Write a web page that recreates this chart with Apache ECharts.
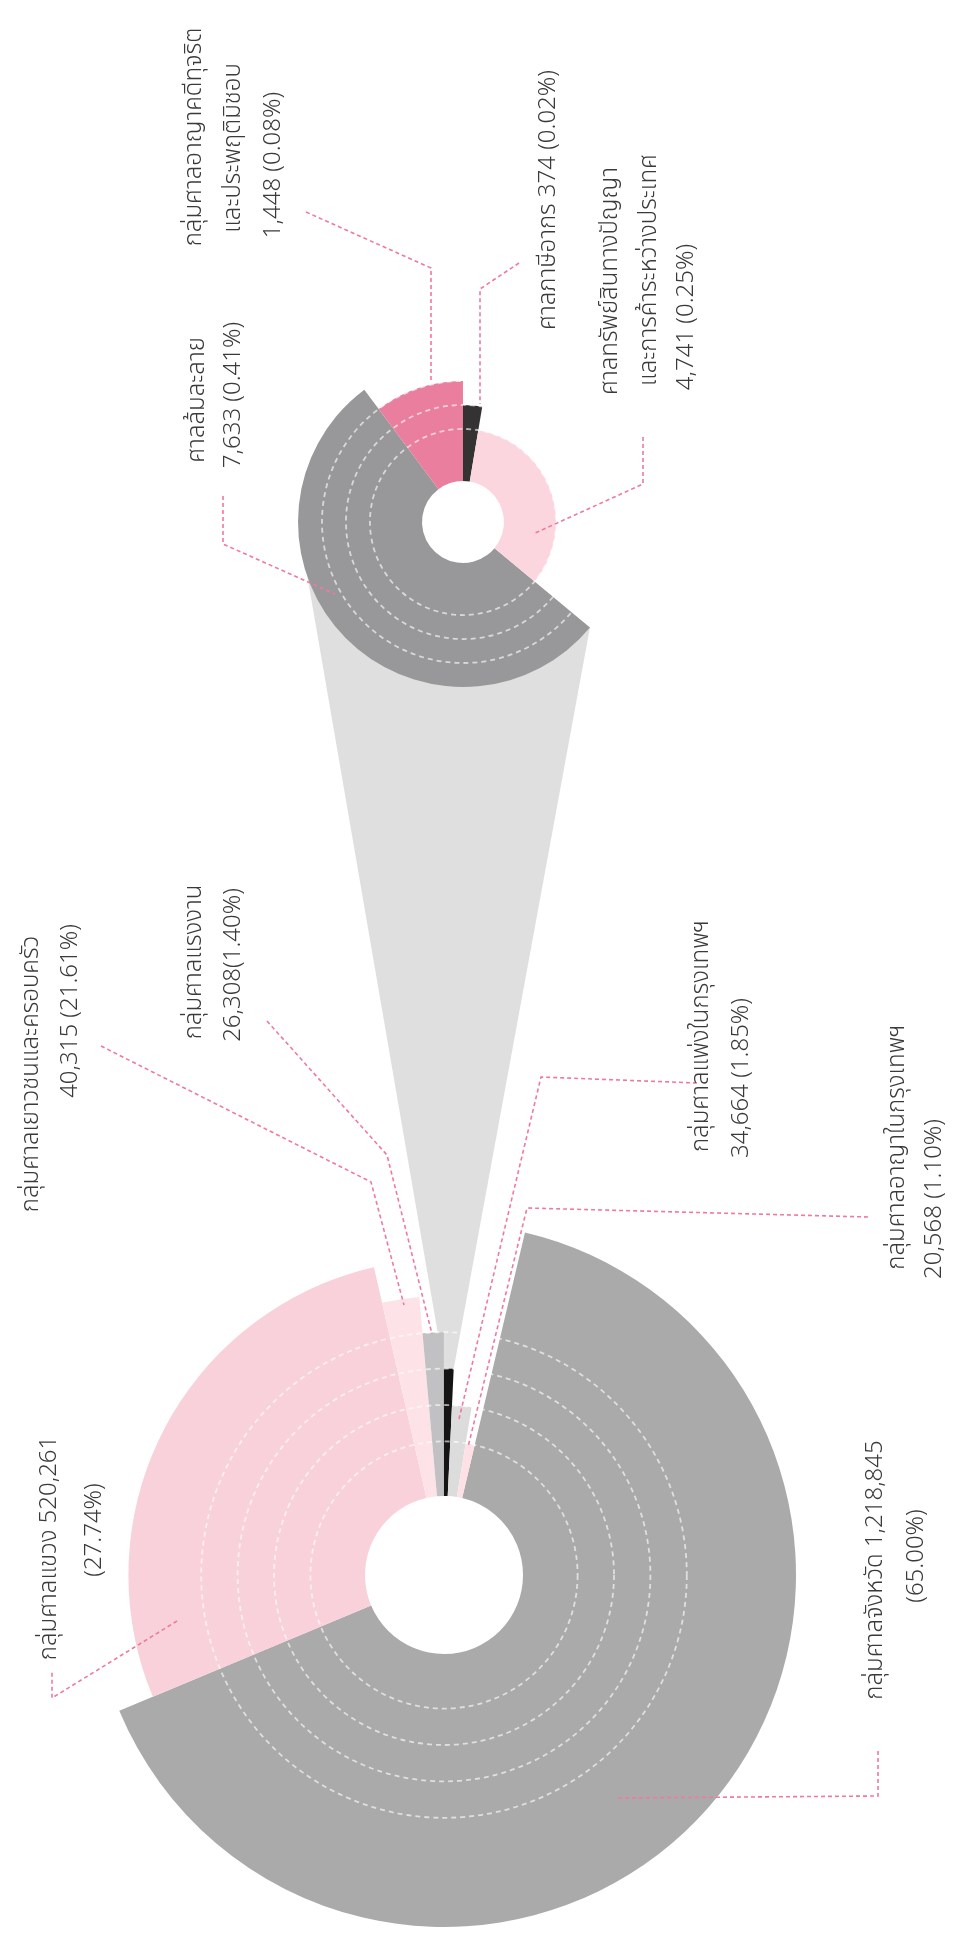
<!DOCTYPE html>
<html><head><meta charset="utf-8">
<script src="https://cdn.jsdelivr.net/npm/echarts@6/dist/echarts.min.js"></script>
<style>html,body{margin:0;padding:0;background:#fff}#c{width:959px;height:1945px}</style>
</head><body><div id="c"></div>
<script>
// ---- data ----
var mainNames = ['กลุ่มศาลจังหวัด','กลุ่มศาลแขวง','กลุ่มศาลเยาวชนและครอบครัว','กลุ่มศาลแรงงาน','ศาลชำนัญพิเศษ','กลุ่มศาลแพ่งในกรุงเทพฯ','กลุ่มศาลอาญาในกรุงเทพฯ'];
var mainValues = [1218845, 520261, 40315, 26308, 14196, 34664, 20568];
var mainLevels = [7, 6, 5, 4, 3, 2, 1];
var subNames = ['ศาลล้มละลาย','กลุ่มศาลอาญาคดีทุจริตและประพฤติมิชอบ','ศาลภาษีอากร','ศาลทรัพย์สินทางปัญญาและการค้าระหว่างประเทศ'];
var subValues = [7633, 1448, 374, 4741];
var subLevels = [4, 3, 2, 1];
var mainGridLevels = [1, 2, 3, 4];
var subGridLevels = [1, 2, 3];
var detailIndex = 4; // main slice expanded into the sub pie

// ---- styles / layout ----
var mainColors = ['#abaaab','#f9d1db','#fde3e8','#c1c1c3','#151515','#dcdcdc','#fde1e7'];
var subColors = ['#98989a','#e97e9e','#353233','#fcd6df'];
var LAY = {
  main: {center:[444,1575], radius:[79,352], startAngle:76.7, rMin:-0.5, rMax:7},
  sub:  {center:[463,522],  radius:[41,165], startAngle:-39.7, rMin:-1.17, rMax:4}
};
var FONT = "300 24px 'Noto Sans Thai','Noto Sans','DejaVu Sans',sans-serif";
var TEXT_COLOR = '#3a3a3a';
var LINE_COLOR = '#ee7aa0';

function sum(a){return a.reduce(function(s,v){return s+v;},0);}
function buildData(values, levels, colors){
  var out=[], acc=0;
  values.forEach(function(v,i){
    out.push({name:'', value:[acc, acc+v, levels[i], i], itemStyle:{color:colors[i]}});
    acc+=v;
  });
  return out;
}
function renderSector(params, api){
  var cs = params.coordSys;
  var lv = api.value(2);
  var p0 = api.coord([lv, api.value(0)]);
  var p1 = api.coord([lv, api.value(1)]);
  var a0 = Math.atan2(p0[1]-cs.cy, p0[0]-cs.cx);
  var a1 = Math.atan2(p1[1]-cs.cy, p1[0]-cs.cx);
  if (a1 <= a0) a1 += Math.PI*2;
  var r = Math.hypot(p0[0]-cs.cx, p0[1]-cs.cy);
  return {type:'sector', shape:{cx:cs.cx, cy:cs.cy, r0:cs.r0, r:r, startAngle:a0, endAngle:a1, clockwise:true},
          style:{fill:api.visual('color')}};
}
function renderGrid(params, api){
  var cs = params.coordSys;
  var p = api.coord([api.value(0), 0]);
  var r = Math.hypot(p[0]-cs.cx, p[1]-cs.cy);
  return {type:'circle', shape:{cx:cs.cx, cy:cs.cy, r:r},
          style:{fill:'none', stroke:'rgba(255,255,255,0.62)', lineWidth:1.8, lineDash:[5,4]}};
}
function polarAxes(key, total, idx){
  var L = LAY[key];
  return {
    angle: {polarIndex:idx, type:'value', min:0, max:total, startAngle:L.startAngle, clockwise:true,
            axisLine:{show:false}, axisTick:{show:false}, axisLabel:{show:false}, splitLine:{show:false}},
    radius: {polarIndex:idx, type:'value', min:L.rMin, max:L.rMax,
            axisLine:{show:false}, axisTick:{show:false}, axisLabel:{show:false}, splitLine:{show:false}}
  };
}
var mA = polarAxes('main', sum(mainValues), 0), sA = polarAxes('sub', sum(subValues), 1);

var chart = echarts.init(document.getElementById('c'), null, {renderer:'canvas'});
chart.setOption({
  animation:false,
  backgroundColor:'#ffffff',
  polar:[{center:LAY.main.center, radius:LAY.main.radius},{center:LAY.sub.center, radius:LAY.sub.radius}],
  angleAxis:[mA.angle, sA.angle],
  radiusAxis:[mA.radius, sA.radius],
  series:[
    {type:'custom', coordinateSystem:'polar', polarIndex:0, z:3, encode:{angle:[0,1], radius:2},
     renderItem:renderSector, data:buildData(mainValues, mainLevels, mainColors)},
    {type:'custom', coordinateSystem:'polar', polarIndex:1, z:3, encode:{angle:[0,1], radius:2},
     renderItem:renderSector, data:buildData(subValues, subLevels, subColors)},
    {type:'custom', coordinateSystem:'polar', polarIndex:0, z:4, encode:{radius:0, angle:1}, silent:true,
     renderItem:renderGrid, data:mainGridLevels.map(function(l){return [l,0];})},
    {type:'custom', coordinateSystem:'polar', polarIndex:1, z:4, encode:{radius:0, angle:1}, silent:true,
     renderItem:renderGrid, data:subGridLevels.map(function(l){return [l,0];})}
  ]
});

// ---- funnel linking the detail slice to the sub pie ----
var cumBefore = sum(mainValues.slice(0, detailIndex));
var b0 = chart.convertToPixel({seriesIndex:0}, [mainLevels[detailIndex], cumBefore]);
var b1 = chart.convertToPixel({seriesIndex:0}, [mainLevels[detailIndex], cumBefore + mainValues[detailIndex]]);
var t1 = chart.convertToPixel({seriesIndex:1}, [subLevels[0], 0]);
var subR = Math.hypot(t1[0]-LAY.sub.center[0], t1[1]-LAY.sub.center[1]);
var t0 = [LAY.sub.center[0]-subR, LAY.sub.center[1]];

// ---- labels (rotated, reading bottom-to-top) ----
var labels = [
  {lines:[['กลุ่มศาลอาญาคดีทุจริต',196,137],['และประพฤติมิชอบ',235,148],['1,448 (0.08%)',275,165]], path:[[306,212],[431,268],[431,382]]},
  {lines:[['ศาลภาษีอากร 374 (0.02%)',550,200]], path:[[519,263],[480,289],[480,404]]},
  {lines:[['ศาลทรัพย์สินทางปัญญา',612,281],['และการค้าระหว่างประเทศ',651,270],['4,741 (0.25%)',688,317]], path:[[643,437],[643,484],[533,534]]},
  {lines:[['ศาลล้มละลาย',199,400],['7,633 (0.41%)',235,395]], path:[[223,496],[223,544],[335,594]]},
  {lines:[['กลุ่มศาลเยาวชนและครอบครัว',33,1074],['40,315 (21.61%)',72,1011]], path:[[101,1046],[371,1182],[404,1305]]},
  {lines:[['กลุ่มศาลแรงงาน',196,962],['26,308(1.40%)',235,965]], path:[[267,1021],[387,1155],[432,1334]]},
  {lines:[['กลุ่มศาลแพ่งในกรุงเทพฯ',703,1036],['34,664 (1.85%)',743,1078]], path:[[697,1083],[541,1077],[459,1419]]},
  {lines:[['กลุ่มศาลอาญาในกรุงเทพฯ',899,1147],['20,568 (1.10%)',936,1199]], path:[[868,1217],[527,1208],[468,1447]]},
  {lines:[['กลุ่มศาลจังหวัด 1,218,845',877,1570],['(65.00%)',918,1556]], path:[[618,1798],[878,1796],[878,1751]]},
  {lines:[['กลุ่มศาลแขวง 520,261',51,1548],['(27.74%)',96,1530]], path:[[177,1621],[52,1698],[52,1672]]}
];
var elements = [{type:'polygon', z:1, silent:true,
  shape:{points:[b0, t0, t1, b1]}, style:{fill:'#dfdfdf'}}];
labels.forEach(function(lb){
  elements.push({type:'polyline', z:20, silent:true, shape:{points:lb.path},
    style:{stroke:LINE_COLOR, lineWidth:1.6, lineDash:[4,3], fill:null}});
  lb.lines.forEach(function(t){
    elements.push({type:'text', z:20, silent:true, x:t[1], y:t[2], rotation:Math.PI/2,
      style:{text:t[0], font:FONT, fill:TEXT_COLOR, align:'center', verticalAlign:'middle'}});
  });
});
chart.setOption({graphic:{elements:elements}});
</script></body></html>
